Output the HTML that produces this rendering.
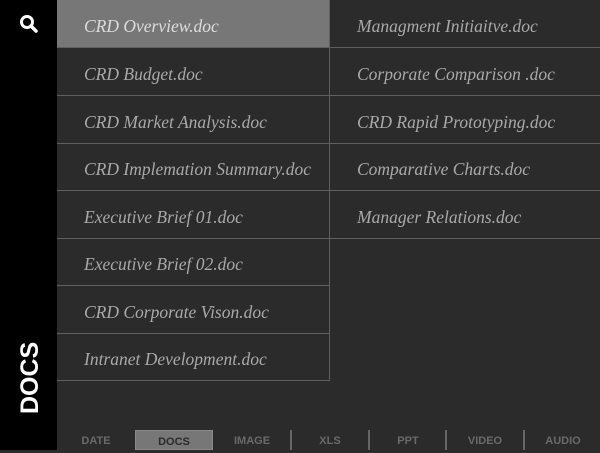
<!DOCTYPE html>
<html><head><meta charset="utf-8"><style>
body{margin:0;width:600px;height:450px;overflow:hidden;background:#2b2b2b;position:relative;font-family:"Liberation Serif",serif}
#side{position:absolute;left:0;top:0;width:57px;height:450px;background:#000}
#docs-title{position:absolute;left:16px;top:414px;transform:rotate(-90deg);transform-origin:0 0;font:bold 25px "Liberation Sans",sans-serif;color:#fff;width:80px;line-height:28px}
.item{position:absolute;box-sizing:border-box;height:48px;border-bottom:1px solid #5f5f5f;color:#a9a9a9;font-style:italic;font-size:17.5px;line-height:52px;padding-left:27px;white-space:nowrap}
.c1{left:57px;width:273px;border-right:1px solid #5f5f5f}
.c2{left:330px;width:270px;border-right:none}
.sel{background:#777;color:#ddd}
.tab{position:absolute;top:430px;height:20px;width:78px;text-align:center;font:bold 11px/22px "Liberation Sans",sans-serif;color:#6a6a6a}
.tab.on{background:#777;color:#2b2b2b;box-sizing:border-box;border:1px solid #888}
.sep{position:absolute;top:430px;width:2px;height:20px;background:#666}
</style></head><body>
<div id="side">
<svg style="position:absolute;left:19px;top:14px" width="20" height="20" viewBox="0 0 20 20"><circle cx="8" cy="8" r="5.5" fill="none" stroke="#fff" stroke-width="3"/><line x1="12" y1="12" x2="17" y2="17" stroke="#fff" stroke-width="3.5" stroke-linecap="round"/></svg>
<div id="docs-title">DOCS</div>
</div>
<div class="item c1 sel" style="top:0">CRD Overview.doc</div>
<div class="item c1" style="top:48px">CRD Budget.doc</div>
<div class="item c1" style="top:96px">CRD Market Analysis.doc</div>
<div class="item c1" style="top:143px">CRD Implemation Summary.doc</div>
<div class="item c1" style="top:191px">Executive Brief 01.doc</div>
<div class="item c1" style="top:238px">Executive Brief 02.doc</div>
<div class="item c1" style="top:286px">CRD Corporate Vison.doc</div>
<div class="item c1" style="top:333px">Intranet Development.doc</div>
<div class="item c2" style="top:0">Managment Initiaitve.doc</div>
<div class="item c2" style="top:48px">Corporate Comparison .doc</div>
<div class="item c2" style="top:96px">CRD Rapid Prototyping.doc</div>
<div class="item c2" style="top:143px">Comparative Charts.doc</div>
<div class="item c2" style="top:191px">Manager Relations.doc</div>
<div class="tab" style="left:57px">DATE</div>
<div class="tab on" style="left:135px">DOCS</div>
<div class="tab" style="left:213px">IMAGE</div>
<div class="sep" style="left:290px"></div>
<div class="tab" style="left:291px">XLS</div>
<div class="sep" style="left:368px"></div>
<div class="tab" style="left:369px">PPT</div>
<div class="sep" style="left:445px"></div>
<div class="tab" style="left:446px">VIDEO</div>
<div class="sep" style="left:523px"></div>
<div class="tab" style="left:524px">AUDIO</div>
</body></html>
